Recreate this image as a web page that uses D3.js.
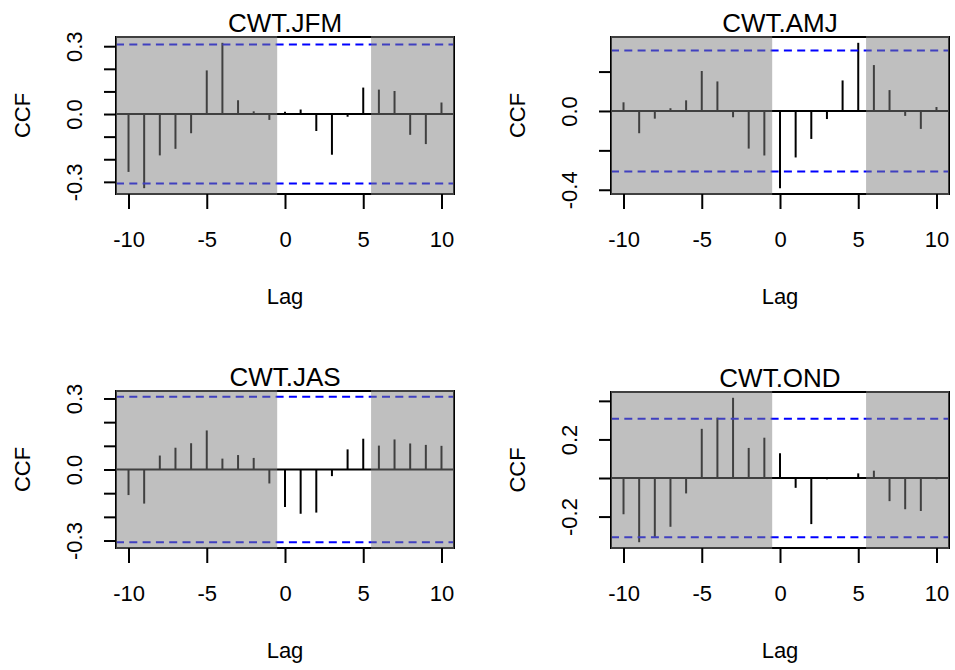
<!DOCTYPE html>
<html>
<head>
<meta charset="utf-8">
<script src="https://cdn.jsdelivr.net/npm/d3@7"></script>
<style>
  body { margin: 0; background: #fff; }
  svg { display: block; }
  text { font-family: "Liberation Sans", Arial, Helvetica, sans-serif; fill: #000; }
</style>
</head>
<body>
<svg id="chart" width="955" height="670"></svg>
<script>
// lags -10..10
var lags = d3.range(-10, 11);

// ccf values
var ccfJFM = [-0.256, -0.328, -0.183, -0.154, -0.085, 0.193, 0.315, 0.061, 0.012, -0.026,
              0.010, 0.020, -0.075, -0.180, -0.012, 0.117, 0.108, 0.102, -0.092, -0.133, 0.051];
var ccfAMJ = [0.044, -0.113, -0.039, 0.014, 0.054, 0.203, 0.150, -0.032, -0.191, -0.226,
              -0.392, -0.236, -0.142, -0.041, 0.155, 0.346, 0.233, 0.106, -0.025, -0.091, 0.020];
var ccfJAS = [-0.108, -0.144, 0.059, 0.092, 0.111, 0.165, 0.046, 0.061, 0.049, -0.059,
              -0.158, -0.187, -0.182, -0.028, 0.085, 0.130, 0.101, 0.127, 0.110, 0.104, 0.100];
var ccfOND = [-0.188, -0.333, -0.311, -0.253, -0.080, 0.255, 0.313, 0.416, 0.156, 0.209,
              0.128, -0.051, -0.239, -0.007, -0.003, 0.024, 0.038, -0.120, -0.162, -0.171, -0.007];

var titles = ["CWT.JFM", "CWT.AMJ", "CWT.JAS", "CWT.OND"];
var ci = 0.307;            // significance bound
var shadeLeft = -0.5;      // shaded (grey) outside [-0.5, 5.5]
var shadeRight = 5.5;

var xTicks = [-10, -5, 0, 5, 10];
var yTicksJFM = [-0.3, -0.2, -0.1, 0, 0.1, 0.2, 0.3];
var yLabelsJFM = [-0.3, 0, 0.3];
var yTicksAMJ = [-0.4, -0.2, 0, 0.2];
var yLabelsAMJ = [-0.4, 0];
var yTicksJAS = [-0.3, -0.2, -0.1, 0, 0.1, 0.2, 0.3];
var yLabelsJAS = [-0.3, 0, 0.3];
var yTicksOND = [-0.2, 0, 0.2, 0.4];
var yLabelsOND = [-0.2, 0.2];

var svg = d3.select("#chart");

// plot regions (pixels)
var boxes = [
  {l: 116, r: 454, t: 37, b: 194},
  {l: 611, r: 949, t: 37, b: 194},
  {l: 116, r: 454, t: 391, b: 548},
  {l: 611, r: 949, t: 392, b: 548}
];

var panels = [
  {title: titles[0], data: ccfJFM, ticks: yTicksJFM, labels: yLabelsJFM},
  {title: titles[1], data: ccfAMJ, ticks: yTicksAMJ, labels: yLabelsAMJ},
  {title: titles[2], data: ccfJAS, ticks: yTicksJAS, labels: yLabelsJAS},
  {title: titles[3], data: ccfOND, ticks: yTicksOND, labels: yLabelsOND}
];

function fmt(v) {
  return d3.format(".1f")(v).replace("−", "-");
}

function drawPanel(p, box) {
  var g = svg.append("g");

  // R style: range extended by 4% each side
  var xr = d3.extent(lags);
  var xpad = (xr[1] - xr[0]) * 0.04;
  var x = d3.scaleLinear().domain([xr[0] - xpad, xr[1] + xpad]).range([box.l, box.r]);

  var lo = Math.min(-ci, d3.min(p.data));
  var hi = Math.max(ci, d3.max(p.data));
  var ypad = (hi - lo) * 0.04;
  var y = d3.scaleLinear().domain([lo - ypad, hi + ypad]).range([box.b, box.t]);

  // zero line
  g.append("line")
    .attr("x1", box.l).attr("x2", box.r)
    .attr("y1", y(0)).attr("y2", y(0))
    .attr("stroke", "#000").attr("stroke-width", 2);

  // ccf spikes
  g.selectAll("line.bar")
    .data(p.data)
    .enter()
    .append("line")
    .attr("class", "bar")
    .attr("x1", function(d, i) { return x(lags[i]); })
    .attr("x2", function(d, i) { return x(lags[i]); })
    .attr("y1", y(0))
    .attr("y2", function(d) { return y(d); })
    .attr("stroke", "#000")
    .attr("stroke-width", 2);

  // confidence bounds
  g.selectAll("line.ci")
    .data([ci, -ci])
    .enter()
    .append("line")
    .attr("class", "ci")
    .attr("x1", box.l).attr("x2", box.r)
    .attr("y1", function(d) { return y(d); })
    .attr("y2", function(d) { return y(d); })
    .attr("stroke", "#0000ff")
    .attr("stroke-width", 2)
    .attr("stroke-dasharray", "8,5.3");

  // box
  g.append("rect")
    .attr("x", box.l).attr("y", box.t)
    .attr("width", box.r - box.l).attr("height", box.b - box.t)
    .attr("fill", "none").attr("stroke", "#000").attr("stroke-width", 2);

  // translucent grey shading over lags outside the window
  var shade = [[x.domain()[0], shadeLeft], [shadeRight, x.domain()[1]]];
  g.selectAll("rect.shade")
    .data(shade)
    .enter()
    .append("rect")
    .attr("class", "shade")
    .attr("x", function(d) { return x(d[0]); })
    .attr("y", box.t - 1)
    .attr("width", function(d) { return x(d[1]) - x(d[0]); })
    .attr("height", box.b - box.t + 2)
    .attr("fill", "rgba(128,128,128,0.5)");

  // x axis
  var xAxis = d3.axisBottom(x)
    .tickValues(xTicks)
    .tickSize(15)
    .tickFormat(function(d) { return String(d); });
  var gx = g.append("g")
    .attr("transform", "translate(0," + box.b + ")")
    .call(xAxis);
  gx.select(".domain").remove();
  gx.selectAll("line").attr("stroke", "#000").attr("stroke-width", 2);
  gx.selectAll("text")
    .attr("y", 53).attr("dy", null)
    .attr("font-size", "22px")
    .attr("font-family", "Liberation Sans, Arial, sans-serif")
    .attr("fill", "#000");

  // y axis
  var yAxis = d3.axisLeft(y)
    .tickValues(p.ticks)
    .tickSize(12)
    .tickFormat(function(d) {
      return p.labels.some(function(v) { return Math.abs(v - d) < 1e-9; }) ? fmt(d) : "";
    });
  var gy = g.append("g")
    .attr("transform", "translate(" + box.l + ",0)")
    .call(yAxis);
  gy.select(".domain").remove();
  gy.selectAll("line").attr("stroke", "#000").attr("stroke-width", 2);
  gy.selectAll("text")
    .attr("x", null).attr("dy", null)
    .attr("text-anchor", "middle")
    .attr("transform", "translate(-34,0) rotate(-90)")
    .attr("font-size", "22px")
    .attr("font-family", "Liberation Sans, Arial, sans-serif")
    .attr("fill", "#000");

  // title and axis labels
  g.append("text")
    .attr("x", (box.l + box.r) / 2)
    .attr("y", box.t - 5)
    .attr("text-anchor", "middle")
    .attr("font-size", "26px")
    .text(p.title);

  g.append("text")
    .attr("x", (box.l + box.r) / 2)
    .attr("y", box.b + 110)
    .attr("text-anchor", "middle")
    .attr("font-size", "22px")
    .text("Lag");

  g.append("text")
    .attr("transform", "translate(" + (box.l - 86) + "," + ((box.t + box.b) / 2) + ") rotate(-90)")
    .attr("text-anchor", "middle")
    .attr("font-size", "22px")
    .text("CCF");
}

panels.forEach(function(p, i) {
  drawPanel(p, boxes[i]);
});
</script>
</body>
</html>
